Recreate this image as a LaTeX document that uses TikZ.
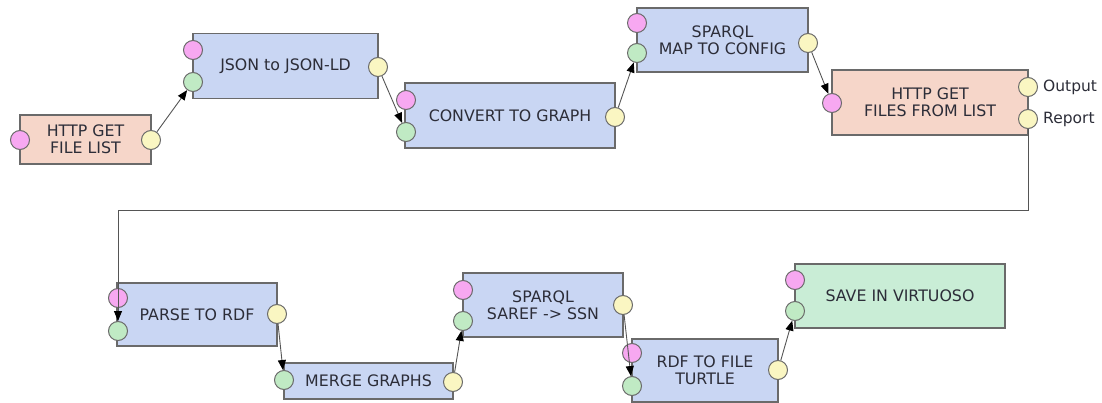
\documentclass[tikz,border=0pt]{standalone}
\usepackage{fontspec}
\setmainfont{DejaVu Sans}
\usetikzlibrary{arrows.meta}
\definecolor{bordc}{HTML}{6A6A6A}
\definecolor{salmon}{HTML}{F6D6C9}
\definecolor{bluef}{HTML}{C9D6F3}
\definecolor{greenf}{HTML}{C9EDD6}
\definecolor{pinkp}{HTML}{F7A8F1}
\definecolor{greenp}{HTML}{C0EAC4}
\definecolor{yellowp}{HTML}{FAF6C2}
\definecolor{txtc}{HTML}{2C2D38}
\definecolor{linec}{HTML}{555555}
\tikzset{
  box/.style={draw=bordc, line width=1.4pt, rectangle, inner sep=0pt, align=center,
    text=txtc, font=\fontsize{15.8}{17}\selectfont},
  salmonbox/.style={box, fill=salmon},
  bluebox/.style={box, fill=bluef},
  greenbox/.style={box, fill=greenf},
  port/.style={circle, draw=bordc, line width=1pt, minimum size=19pt, inner sep=0pt},
  pinkport/.style={port, fill=pinkp},
  greenport/.style={port, fill=greenp},
  yellowport/.style={port, fill=yellowp},
  conn/.style={draw=linec, line width=0.9pt, -{Triangle[length=10pt,width=8pt,color=black]}},
  portlabel/.style={anchor=west, text=txtc, inner sep=0pt, font=\fontsize{15.5}{17}\selectfont}
}
\begin{document}
\begin{tikzpicture}[x=1pt,y=-1pt]
\path[use as bounding box] (0,0) rectangle (1102,403);
% boxes
\node[salmonbox, minimum width=131pt, minimum height=49pt] (b1) at (85.5,139.5) {HTTP GET\\FILE LIST};
\node[bluebox, minimum width=185pt, minimum height=65pt] (b2) at (285.5,66) {JSON to JSON-LD};
\node[bluebox, minimum width=210pt, minimum height=65pt] (b3) at (510,115.5) {CONVERT TO GRAPH};
\node[bluebox, minimum width=171pt, minimum height=64pt] (b4) at (722.5,40) {SPARQL\\MAP TO CONFIG};
\node[salmonbox, minimum width=196pt, minimum height=65pt] (b5) at (930,102.5) {HTTP GET\\FILES FROM LIST};
\node[bluebox, minimum width=160pt, minimum height=63pt] (b6) at (197,314.5) {PARSE TO RDF};
\node[bluebox, minimum width=169pt, minimum height=36pt] (b7) at (368.5,381) {MERGE GRAPHS};
\node[bluebox, minimum width=160pt, minimum height=64pt] (b8) at (543,305) {SPARQL\\SAREF -> SSN};
\node[bluebox, minimum width=146pt, minimum height=63pt] (b9) at (705,370.5) {RDF TO FILE\\TURTLE};
\node[greenbox, minimum width=210pt, minimum height=64pt] (b10) at (900,296) {SAVE IN VIRTUOSO};
% ports
\node[pinkport] (p1) at (20,140) {};
\node[yellowport] (y1) at (151,140) {};
\node[pinkport] (p2) at (193,50) {};
\node[greenport] (g2) at (193,82) {};
\node[yellowport] (y2) at (378,67) {};
\node[pinkport] (p3) at (406,100) {};
\node[greenport] (g3) at (406,132) {};
\node[yellowport] (y3) at (615,117) {};
\node[pinkport] (p4) at (637,23) {};
\node[greenport] (g4) at (637,53) {};
\node[yellowport] (y4) at (808,43) {};
\node[pinkport] (p5) at (832,103) {};
\node[yellowport] (out5) at (1028,87) {};
\node[yellowport] (rep5) at (1028,119) {};
\node[portlabel] (lout) at (1043,87) {Output};
\node[portlabel] (lrep) at (1043,119) {Report};
\node[pinkport] (p6) at (118,298) {};
\node[greenport] (g6) at (118,331) {};
\node[yellowport] (y6) at (277,314) {};
\node[greenport] (g7) at (284,380) {};
\node[yellowport] (y7) at (453,382) {};
\node[pinkport] (p8) at (463,290) {};
\node[greenport] (g8) at (463,321) {};
\node[yellowport] (y8) at (623,305) {};
\node[pinkport] (p9) at (632,353) {};
\node[greenport] (g9) at (632,386) {};
\node[yellowport] (y9) at (778,370) {};
\node[pinkport] (p10) at (795,280) {};
\node[greenport] (g10) at (795,311) {};
% connectors
\coordinate (bend) at (118,210);
\draw[conn] (y1) -- (g2);
\draw[conn] (y2) -- (g3);
\draw[conn] (y3) -- (g4);
\draw[conn] (y4) -- (p5);
\draw[conn] (rep5) |- (bend) -- (g6);
\draw[conn] (y6) -- (g7);
\draw[conn] (y7) -- (g8);
\draw[conn] (y8) -- (g9);
\draw[conn] (y9) -- (g10);
\end{tikzpicture}
\end{document}
